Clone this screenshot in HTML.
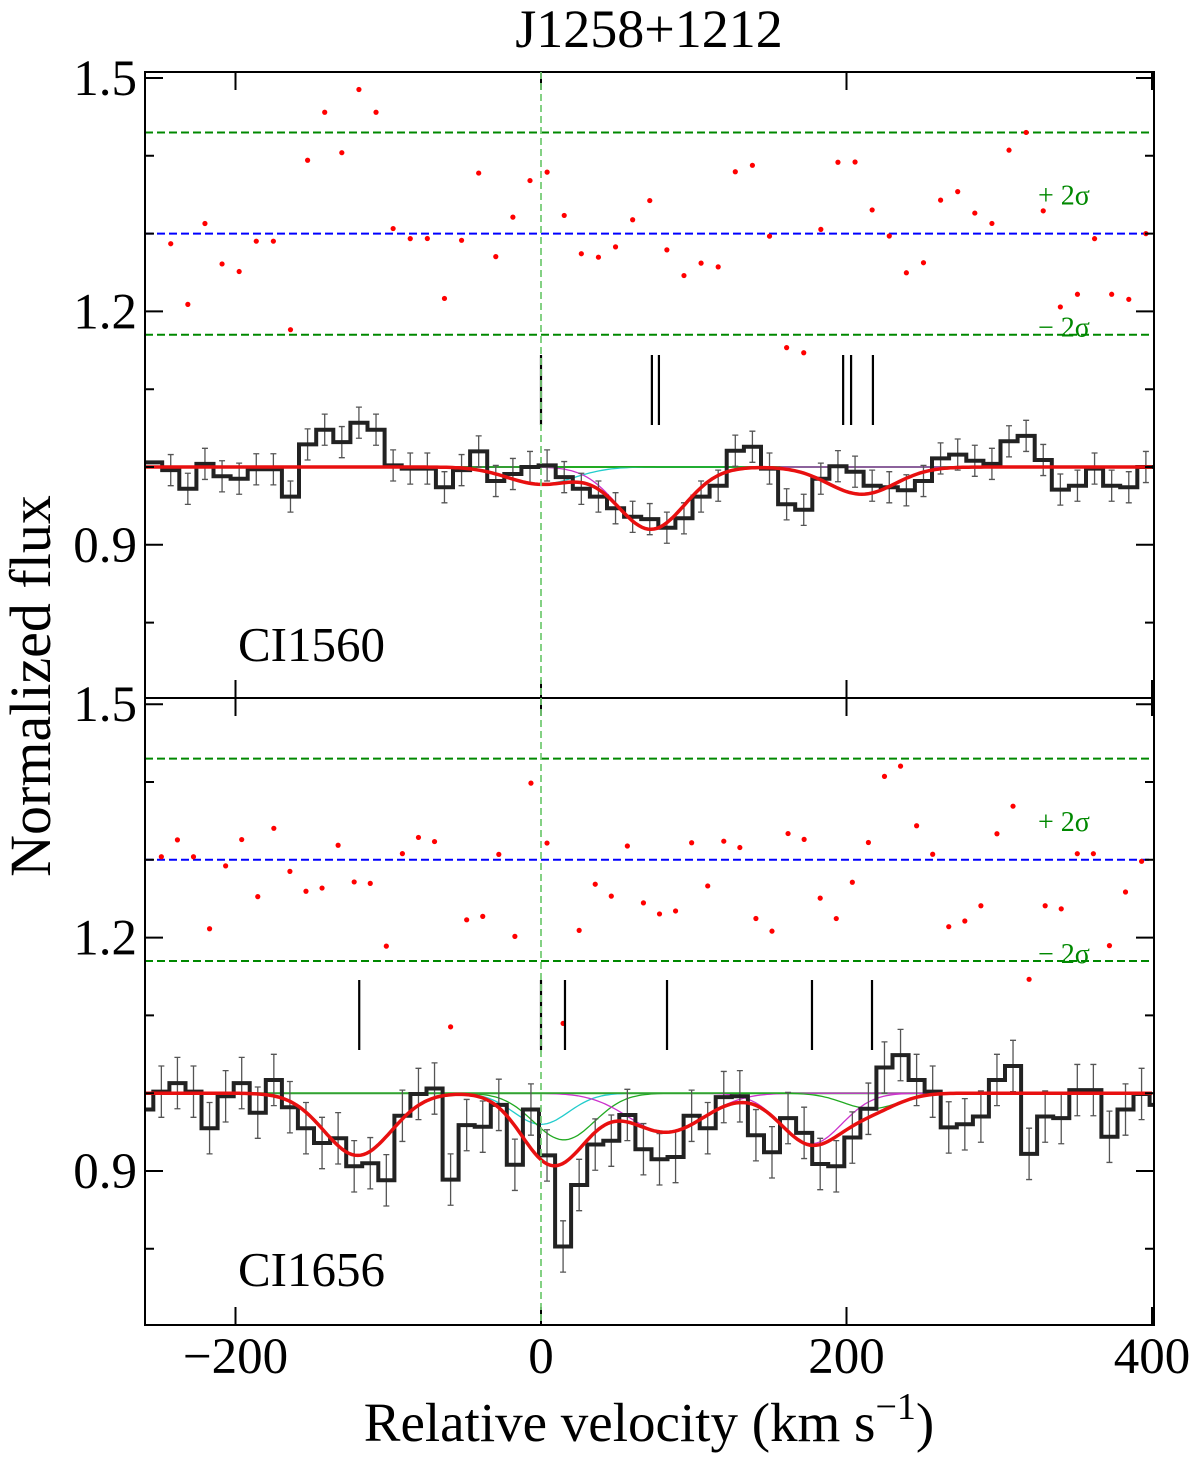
<!DOCTYPE html>
<html><head><meta charset="utf-8"><style>
body{margin:0;background:#fff}
svg{display:block}
text{font-family:"Liberation Serif",serif}
</style></head><body>
<svg id="c" width="1200" height="1462" viewBox="0 0 1200 1462"></svg>
<script>
// ---- data ----
const topEdge0 = -248, topDv = 11.2, topFirstFlux = 1.006;
const topFlux = [0.996,0.972,1.004,0.988,0.985,0.997,0.997,0.962,1.029,1.048,1.032,1.057,1.048,1.002,0.998,0.998,0.974,0.996,1.020,0.982,0.991,1.000,1.002,0.987,0.972,0.962,0.947,0.936,0.933,0.922,0.934,0.962,0.976,1.021,1.026,0.998,0.952,0.945,0.985,1.001,0.994,0.976,0.974,0.970,0.982,1.011,1.016,1.008,1.004,1.033,1.040,1.009,0.971,0.976,0.998,0.976,0.974,1.000];
const topErr = 0.02;
const botEdge0 = -253.8, botDv = 10.52, botFirstFlux = 0.979;
const botFlux = [1.002,1.013,1.002,0.955,0.996,1.013,0.975,1.017,0.982,0.955,0.936,0.942,0.906,0.910,0.888,0.971,0.999,1.006,0.889,0.959,0.957,0.985,0.908,0.979,0.920,0.803,0.882,0.934,0.939,0.972,0.928,0.915,0.918,0.971,0.955,0.995,0.996,0.946,0.924,0.968,0.949,0.909,0.906,0.943,0.980,1.033,1.049,1.017,1.002,0.956,0.960,0.970,1.017,1.035,0.922,0.970,0.968,1.004,1.004,0.944,0.979,0.999,0.985];
const botErr = 0.033;
// model components: center, depth, sigma
const topCompV = [0, 72, 210];
const topCompD = [0.022, 0.08, 0.035];
const topCompS = [22, 22, 22];
const topCompColor = ["#2cc","#c3c","#2a2"];
const botCompV = [-120, 0, 15, 82, 177, 216];
const botCompD = [0.08, 0.04, 0.06, 0.05, 0.065, 0.02];
const botCompS = [22, 18, 20, 25, 20, 18];
const botCompColor = ["#2a2","#2cc","#2a2","#c3c","#c3c","#2a2"];
const topMarks = [0, 72.6, 77.2, 197.8, 203, 217.3];
const botMarks = [-119, 0, 15.7, 82.5, 177.4, 216.7];
const xTicks = [-200, 0, 200, 400];
const xTickLabels = ["\u2212200","0","200","400"];
const yMajor = [0.9, 1.2, 1.5];
const yMajorLabels = ["0.9","1.2","1.5"];
const yMinor = [0.8, 1.0, 1.1, 1.3, 1.4];

// ---- layout ----
const L=145,R=1154,V0=541,PX=1.5275,SC=778;
const xs=v=>V0+v*PX;
const panels=[
 {name:"ci1560",top:72,bot:698,y1:467,edge0:topEdge0,dv:topDv,first:topFirstFlux,flux:topFlux,err:topErr,cv:topCompV,cd:topCompD,cs:topCompS,cc:topCompColor,marks:topMarks,mk:[355,425],label:"CI1560",ly:661},
 {name:"ci1656",top:698,bot:1325,y1:1093.2,edge0:botEdge0,dv:botDv,first:botFirstFlux,flux:botFlux,err:botErr,cv:botCompV,cd:botCompD,cs:botCompS,cc:botCompColor,marks:botMarks,mk:[980,1050],label:"CI1656",ly:1286}
];
const svg=document.getElementById('c');
const NS="http://www.w3.org/2000/svg";
function el(tag,attrs,parent){const e=document.createElementNS(NS,tag);for(const k in attrs)e.setAttribute(k,attrs[k]);(parent||svg).appendChild(e);return e;}

const defs=el('defs',{});
panels.forEach((p,i)=>{
 const cp=el('clipPath',{id:'cl'+i},defs);
 el('rect',{x:L,y:p.top,width:R-L,height:p.bot-p.top},cp);
});

panels.forEach((p,i)=>{
 const ys=f=>p.y1-(f-1)*SC;
 const g=el('g',{'clip-path':'url(#cl'+i+')'});
 
 
 const model=v=>{let s=1;for(let j=0;j<p.cv.length;j++)s-=p.cd[j]*Math.exp(-((v-p.cv[j])**2)/(2*p.cs[j]**2));return s;};
 const hl=(f,col,name,dash)=>{const l=el('line',{x1:L,x2:R,y1:ys(f),y2:ys(f),stroke:col,'stroke-width':2,'stroke-dasharray':dash||'8,4'},g);
  };
 hl(1.43,"#080",'plus-2sigma-line');hl(1.3,"#00f",'residual-zero-line');hl(1.17,"#080",'minus-2sigma-line');
 hl(1.0,"#2a2",'continuum-line','none');
 for(let j=0;j<p.cv.length;j++){
  let d='';for(let v=-260;v<=400;v+=2){const f=1-p.cd[j]*Math.exp(-((v-p.cv[j])**2)/(2*p.cs[j]**2));d+=(v===-260?'M':'L')+xs(v).toFixed(1)+','+ys(f).toFixed(1);}
  const c=el('path',{d:d,fill:'none',stroke:p.cc[j],'stroke-width':1.3},g);
  
 }
 let d='M'+xs(-262)+','+ys(p.first)+'L'+xs(p.edge0)+','+ys(p.first);
 p.flux.forEach((f,k)=>{const a=p.edge0+k*p.dv,b=a+p.dv;d+='L'+xs(a).toFixed(1)+','+ys(f).toFixed(1)+'L'+xs(b).toFixed(1)+','+ys(f).toFixed(1);});
 p.flux.forEach((f,k)=>{const c=p.edge0+(k+0.5)*p.dv,x=xs(c);
  const e=el('path',{d:`M${x},${ys(f+p.err)}V${ys(f-p.err)}M${x-3},${ys(f+p.err)}h6M${x-3},${ys(f-p.err)}h6`,stroke:'#555','stroke-width':1.3,fill:'none'},g);
  });
 const h=el('path',{d:d,fill:'none',stroke:'#222','stroke-width':4,'stroke-linejoin':'miter'},g);
 
 let md='';for(let v=-260;v<=400;v+=2)md+=(v===-260?'M':'L')+xs(v).toFixed(1)+','+ys(model(v)).toFixed(1);
 const m=el('path',{d:md,fill:'none',stroke:'#e81010','stroke-width':3.5},g);
 
 p.flux.forEach((f,k)=>{const c=p.edge0+(k+0.5)*p.dv;const r=1.3+(f-model(c))/p.err*0.065;
  const dt=el('circle',{cx:xs(c),cy:ys(r),r:2.6,fill:'#f00'},g);
  });
 p.marks.forEach(v=>{const t=el('line',{x1:xs(v),x2:xs(v),y1:p.mk[0],y2:p.mk[1],stroke:'#000','stroke-width':2.2},g);
  });
 const sp=el('text',{x:1038,y:ys(1.35)+10,fill:'#080','font-size':28,'font-family':'Liberation Sans, sans-serif'});sp.textContent='+ 2\u03c3';
 
 const sm=el('text',{x:1038,y:ys(1.17)+2,fill:'#080','font-size':28,'font-family':'Liberation Sans, sans-serif'});sm.textContent='\u2212 2\u03c3';
 
 const lb=el('text',{x:238,y:p.ly,'font-size':49});lb.textContent=p.label;
 
 const fr=el('rect',{x:L,y:p.top,width:R-L,height:p.bot-p.top,fill:'none',stroke:'#000','stroke-width':2});
 
 yMajor.forEach((f,j)=>{const y=ys(f);
  el('path',{d:`M${L},${y}h18M${R},${y}h-18`,stroke:'#000','stroke-width':2});
  const t=el('text',{x:L-8,y:y+17,'font-size':51,'text-anchor':'end'});t.textContent=yMajorLabels[j];
  });
 yMinor.forEach(f=>{const y=ys(f);el('path',{d:`M${L},${y}h9M${R},${y}h-9`,stroke:'#000','stroke-width':2});});
 xTicks.forEach(v=>{const x=xs(v);el('path',{d:`M${x},${p.top}v18M${x},${p.bot}v-18`,stroke:'#000','stroke-width':2});});
 const z=el('line',{x1:xs(0),x2:xs(0),y1:p.top,y2:p.bot,stroke:'#7c7','stroke-width':1.8,'stroke-dasharray':'7,4'});
 
});
xTicks.forEach((v,j)=>{const t=el('text',{x:xs(v),y:1373,'font-size':51,'text-anchor':'middle'});t.textContent=xTickLabels[j];
 });
const ti=el('text',{x:649,y:47,'font-size':54,'text-anchor':'middle'});ti.textContent='J1258+1212';

const xl=el('text',{x:649,y:1441,'font-size':55,'text-anchor':'middle'});
xl.innerHTML='Relative velocity (km s<tspan dy="-22" font-size="38">\u22121</tspan><tspan dy="22">)</tspan>';

const yl=el('text',{x:0,y:0,'font-size':58,'text-anchor':'middle',transform:'translate(50,686) rotate(-90)'});yl.textContent='Normalized flux';

</script>
</body></html>
